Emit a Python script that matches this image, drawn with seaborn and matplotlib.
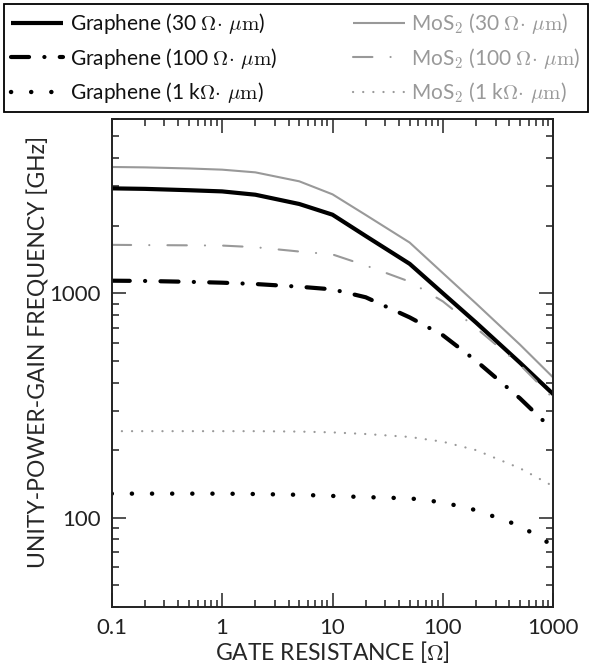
import numpy as np
import pandas as pd
import seaborn as sns
import matplotlib.pyplot as plt
from matplotlib.ticker import FixedLocator, LogLocator, NullFormatter

# gate resistance [Ohm]
gate_r = [0.1, 0.2, 0.5, 1, 2, 5, 10, 20, 50, 100, 200, 500, 1000]

# unity-power-gain frequency [GHz]
graphene_30 = [2935, 2920, 2880, 2845, 2750, 2500, 2240, 1800, 1353, 1000, 740, 490, 355]
graphene_100 = [1138, 1135, 1125, 1115, 1100, 1070, 1041, 960, 781, 650, 500, 340, 245]
graphene_1k = [128, 128, 128, 128, 127.5, 126.5, 125, 123.5, 122, 117, 108, 92, 75]
mos2_30 = [3655, 3640, 3600, 3556, 3459, 3155, 2761, 2234, 1683, 1230, 900, 590, 421]
mos2_100 = [1644, 1640, 1636, 1632, 1605, 1535, 1490, 1330, 1127, 920, 700, 480, 340]
mos2_1k = [243, 243, 243, 243, 243, 242, 240, 236, 229, 218, 200, 166, 138]

labels = [
    r"Graphene (30 $\Omega\!\cdot\,\mu\mathrm{m}$)",
    r"Graphene (100 $\Omega\!\cdot\,\mu\mathrm{m}$)",
    r"Graphene (1 k$\Omega\!\cdot\,\mu\mathrm{m}$)",
    r"MoS$_2$ (30 $\Omega\!\cdot\,\mu\mathrm{m}$)",
    r"MoS$_2$ (100 $\Omega\!\cdot\,\mu\mathrm{m}$)",
    r"MoS$_2$ (1 k$\Omega\!\cdot\,\mu\mathrm{m}$)",
]
series = [graphene_30, graphene_100, graphene_1k, mos2_30, mos2_100, mos2_1k]

GRAY = "#999999"
styles = [
    dict(color="black", lw=3.0, linestyle="-"),
    dict(color="black", lw=3.0, linestyle=(0, (13, 11, 0.1, 11))),
    dict(color="black", lw=3.2, linestyle=(0, (0.1, 14.4))),
    dict(color=GRAY, lw=1.5, linestyle="-"),
    dict(color=GRAY, lw=1.5, linestyle=(0, (14, 13, 0.1, 13))),
    dict(color=GRAY, lw=1.6, linestyle=(0, (0.1, 7.2))),
]

sns.set_style("ticks")
plt.rcParams["font.family"] = ["Lato", "DejaVu Sans"]
plt.rcParams["mathtext.fontset"] = "cm"
plt.rcParams["lines.scale_dashes"] = False
plt.rcParams["lines.dash_capstyle"] = "round"
plt.rcParams["lines.solid_capstyle"] = "butt"

fig = plt.figure(figsize=(5.99, 6.66), dpi=100)
ax = fig.add_axes([0.1865, 0.0886, 0.7372, 0.7332])

for lab, vals, st in zip(labels, series, styles):
    df = pd.DataFrame({"R": gate_r, "f": vals})
    sns.lineplot(data=df, x="R", y="f", ax=ax, label=lab, **st)

ax.set_xscale("log")
ax.set_yscale("log")
ax.set_xlim(0.1, 1000)
ax.set_ylim(40, 6000)

ax.set_xticks([0.1, 1, 10, 100, 1000])
ax.set_xticklabels(["0.1", "1", "10", "100", "1000"])
ax.xaxis.set_minor_locator(LogLocator(base=10, subs=np.arange(2, 10)))
ax.xaxis.set_minor_formatter(NullFormatter())
ax.yaxis.set_major_locator(FixedLocator([100, 1000]))
ax.set_yticklabels(["100", "1000"])
ax.yaxis.set_minor_locator(LogLocator(base=10, subs=np.arange(2, 10)))
ax.yaxis.set_minor_formatter(NullFormatter())

ax.tick_params(which="both", direction="in", top=True, right=True,
               labelsize=16, colors="#222222")
ax.tick_params(which="major", length=10, width=1.1, pad=8)
ax.tick_params(which="minor", length=5, width=1.1)
for sp in ax.spines.values():
    sp.set_linewidth(1.4)
    sp.set_color("#222222")

ax.set_xlabel(r"GATE RESISTANCE [$\Omega$]", fontsize=16.5, labelpad=1)
ax.set_ylabel("UNITY-POWER-GAIN FREQUENCY [GHz]", fontsize=16.5)
ax.yaxis.set_label_coords(-0.14, 0.522)

handles, labs = ax.get_legend_handles_labels()
ax.get_legend().remove()
leg = fig.legend(handles, labs, loc="upper left", ncol=2, mode="expand",
                 bbox_to_anchor=(4 / 599, 554 / 666, 584 / 599, 108 / 666),
                 fontsize=15, handlelength=2.5, handletextpad=0.3,
                 labelspacing=0.45, borderaxespad=0, borderpad=0.35,
                 fancybox=False, framealpha=1, edgecolor="black")
leg.get_frame().set_linewidth(1.3)
for t, st in zip(leg.get_texts(), styles):
    t.set_color(st["color"] if st["color"] != "black" else "#111111")

fig.savefig("out.png", dpi=100)
